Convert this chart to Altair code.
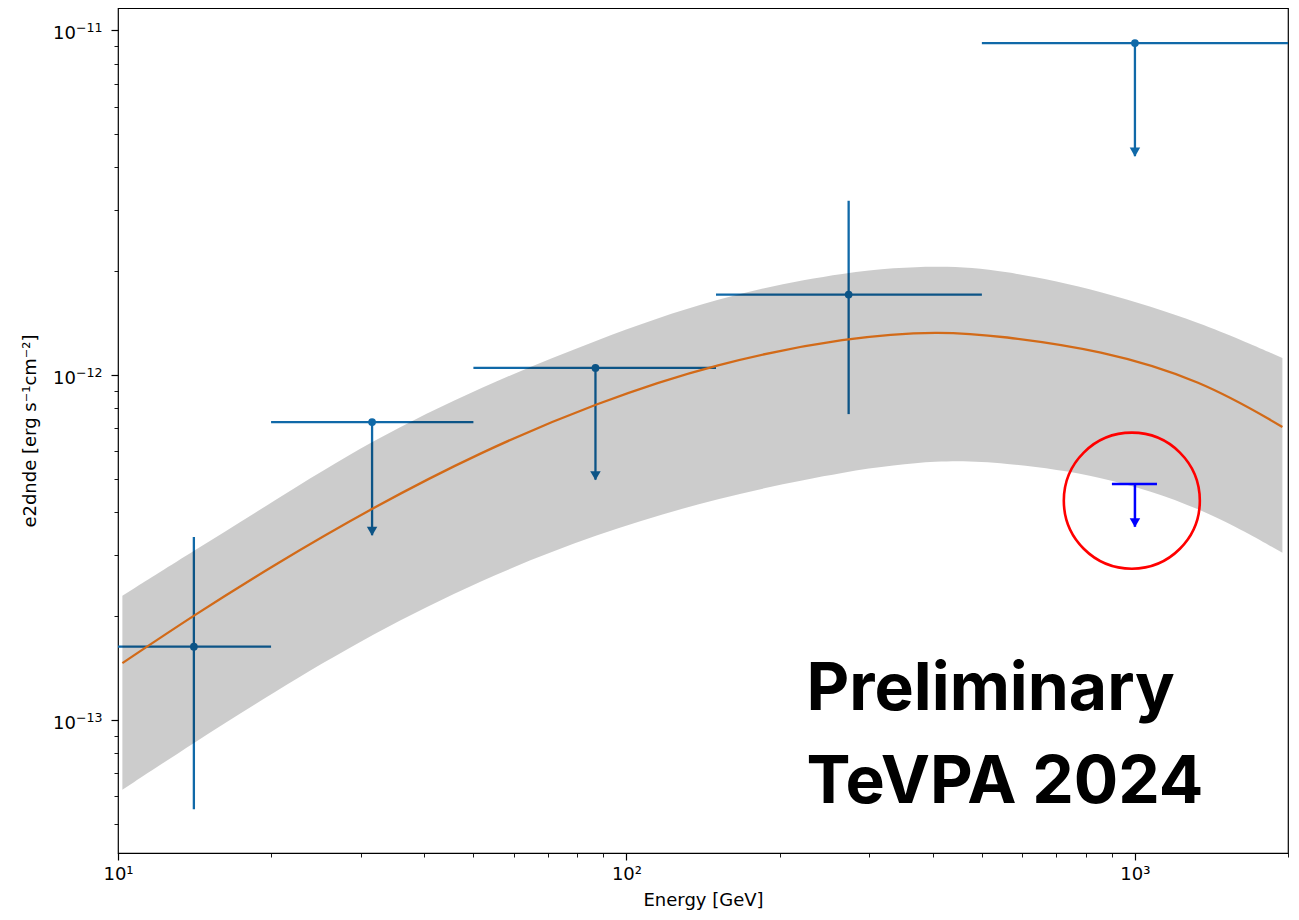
import altair as alt
import pandas as pd

# ---------------- data ----------------
pt_energy = [14.1, 31.6, 86.9, 273.5, 1000.0]
pt_e_lo = [10.0, 20.0, 50.0, 150.0, 500.0]
pt_e_hi = [20.0, 50.0, 150.0, 500.0, 2000.0]
pt_flux = [1.63e-13, 7.3e-13, 1.048e-12, 1.71e-12, 9.17e-12]
pt_flux_lo = [5.5e-14, 3.43e-13, 4.97e-13, 7.7e-13, 4.31e-12]
pt_flux_hi = [3.39e-13, 7.3e-13, 1.048e-12, 3.2e-12, 9.17e-12]
pt_is_ul = [False, True, True, False, True]

model_energy = [10.2, 14.1, 20.0, 31.6, 51.6, 87.0, 150.0, 274.0, 415.0, 544.0, 857.0, 1350.0, 1950.0]
model_flux = [1.46e-13, 2.01e-13, 2.78e-13, 4.12e-13, 5.98e-13, 8.29e-13, 1.083e-12, 1.29e-12,
              1.341e-12, 1.297e-12, 1.182e-12, 9.67e-13, 7.07e-13]
band_lo = [6.27e-14, 8.58e-14, 1.19e-13, 1.776e-13, 2.545e-13, 3.46e-13, 4.40e-13, 5.30e-13,
           5.68e-13, 5.58e-13, 5.13e-13, 4.14e-13, 3.05e-13]
band_hi = [2.29e-13, 3.09e-13, 4.26e-13, 6.48e-13, 9.23e-13, 1.263e-12, 1.683e-12, 2.01e-12,
           2.08e-12, 2.02e-12, 1.76e-12, 1.42e-12, 1.12e-12]

new_ul_energy = [1000.0]
new_ul_e_lo = [901.0]
new_ul_e_hi = [1105.0]
new_ul_flux = [4.83e-13]
new_ul_end = [3.63e-13]

circle_energy = [986.0]
circle_flux = [4.32e-13]

label_lines = ["Preliminary", "TeVPA 2024"]
label_energy = [226.0, 226.0]
label_flux = [1.069e-13, 5.745e-14]

x_domain = [10, 2000]
y_domain = [4.11e-14, 1.159e-11]
x_major = [10, 100, 1000]
x_major_labels = ["10¹", "10²", "10³"]
x_minor = [20, 30, 40, 50, 60, 70, 80, 90, 200, 300, 400, 500, 600, 700, 800, 900, 2000]
y_major = [1e-13, 1e-12, 1e-11]
y_major_exp = ["−13", "−12", "−11"]
y_minor = [5e-14, 6e-14, 7e-14, 8e-14, 9e-14, 2e-13, 3e-13, 4e-13, 5e-13, 6e-13, 7e-13, 8e-13,
           9e-13, 2e-12, 3e-12, 4e-12, 5e-12, 6e-12, 7e-12, 8e-12, 9e-12]

# ---------------- tables ----------------
pts = pd.DataFrame({"e": pt_energy, "elo": pt_e_lo, "ehi": pt_e_hi, "f": pt_flux,
                    "flo": pt_flux_lo, "fhi": pt_flux_hi, "ul": pt_is_ul})
ul_pts = pts[pts["ul"]]
model = pd.DataFrame({"e": model_energy, "f": model_flux, "lo": band_lo, "hi": band_hi})
new_ul = pd.DataFrame({"e": new_ul_energy, "elo": new_ul_e_lo, "ehi": new_ul_e_hi,
                       "f": new_ul_flux, "end": new_ul_end})
circ = pd.DataFrame({"e": circle_energy, "f": circle_flux})
labels = pd.DataFrame({"e": label_energy, "f": label_flux, "t": label_lines})
ylabs = pd.DataFrame({"e": [x_domain[0]] * len(y_major), "f": y_major,
                      "base": ["10"] * len(y_major), "exp": y_major_exp})


def label_expr(vals, labs):
    parts = " : ".join(f"datum.value == {v!r} ? '{l}'" for v, l in zip(vals, labs))
    return parts + " : ''"


def major_test(vals):
    return "indexof([" + ",".join(repr(v) for v in vals) + "], datum.value) >= 0"


x_scale = alt.Scale(type="log", domain=x_domain, nice=False)
y_scale = alt.Scale(type="log", domain=y_domain, nice=False)

x_axis = alt.Axis(
    title="Energy [GeV]",
    values=sorted(x_major + x_minor),
    labelExpr=label_expr(x_major, x_major_labels),
    tickSize={"condition": {"test": major_test(x_major), "value": 7}, "value": 4},
    tickWidth={"condition": {"test": major_test(x_major), "value": 1.2}, "value": 0.9},
    labelPadding=5, titlePadding=8, grid=False, domain=False,
    labelFlush=False, labelOverlap=False,
)
y_axis = alt.Axis(
    title="e2dnde [erg s⁻¹cm⁻²]",
    values=sorted(y_major + y_minor),
    labels=False,
    tickSize={"condition": {"test": major_test(y_major), "value": 7}, "value": 4},
    tickWidth={"condition": {"test": major_test(y_major), "value": 1.2}, "value": 0.9},
    titlePadding=71, grid=False, domain=False,
)

X = lambda f: alt.X(f, type="quantitative", scale=x_scale, axis=x_axis)
Y = lambda f: alt.Y(f, type="quantitative", scale=y_scale, axis=y_axis)

BLUE = "#1069a8"
ORANGE = "#d26a18"

h_bars = alt.Chart(pts).mark_rule(color=BLUE, strokeWidth=2.3).encode(
    x=X("elo"), x2="ehi", y=Y("f"))
v_bars = alt.Chart(pts).mark_rule(color=BLUE, strokeWidth=2.3).encode(
    x=X("e"), y=Y("flo"), y2="fhi")
dots = alt.Chart(pts).mark_circle(color=BLUE, size=60, opacity=1).encode(
    x=X("e"), y=Y("f"))
arrows = alt.Chart(ul_pts).mark_point(shape="triangle-down", filled=True, color=BLUE,
                                      size=110, opacity=1, yOffset=-4).encode(
    x=X("e"), y=Y("flo"))

band = alt.Chart(model).mark_area(color="black", opacity=0.2, interpolate="basis").encode(
    x=X("e"), y=Y("lo"), y2="hi")
curve = alt.Chart(model).mark_line(color=ORANGE, strokeWidth=2.3, interpolate="basis").encode(
    x=X("e"), y=Y("f"))

nu_bar = alt.Chart(new_ul).mark_rule(color="#0000ff", strokeWidth=2.5).encode(
    x=X("elo"), x2="ehi", y=Y("f"))
nu_stem = alt.Chart(new_ul).mark_rule(color="#0000ff", strokeWidth=2.5).encode(
    x=X("e"), y=Y("f"), y2="end")
nu_arrow = alt.Chart(new_ul).mark_point(shape="triangle-down", filled=True, color="#0000ff",
                                        size=110, opacity=1, yOffset=-4).encode(
    x=X("e"), y=Y("end"))

ring = alt.Chart(circ).mark_point(shape="circle", filled=False, color="#ff0000", size=18500,
                                  strokeWidth=2.6, opacity=1).encode(x=X("e"), y=Y("f"))

text = alt.Chart(labels).mark_text(font="Inter", fontSize=66, fontWeight="bold", color="black",
                                   align="left", baseline="alphabetic").encode(
    x=X("e"), y=Y("f"), text="t")

ylab_base = alt.Chart(ylabs).mark_text(font="DejaVu Sans", fontSize=18, color="black",
                                       align="right", baseline="alphabetic", dx=-42, dy=9).encode(
    x=X("e"), y=Y("f"), text="base")
ylab_exp = alt.Chart(ylabs).mark_text(font="DejaVu Sans", fontSize=12.6, color="black",
                                      align="left", baseline="alphabetic", dx=-42, dy=2).encode(
    x=X("e"), y=Y("f"), text="exp")

chart = alt.layer(
    h_bars, v_bars, dots, arrows, band, curve, nu_bar, nu_stem, nu_arrow, ring, text,
    ylab_base, ylab_exp
).properties(
    width=1170, height=845,
    autosize=alt.AutoSizeParams(type="none"),
    padding={"left": 110, "top": 0, "right": 3, "bottom": 59},
    background="white",
).configure_view(
    stroke="black", strokeWidth=1.2
).configure_axis(
    labelFont="DejaVu Sans", labelFontSize=18, labelColor="black",
    titleFont="DejaVu Sans", titleFontSize=18, titleFontWeight="normal", titleColor="black",
    tickColor="black",
)

chart.save("out.html", embed_options={"renderer": "svg", "actions": False})
